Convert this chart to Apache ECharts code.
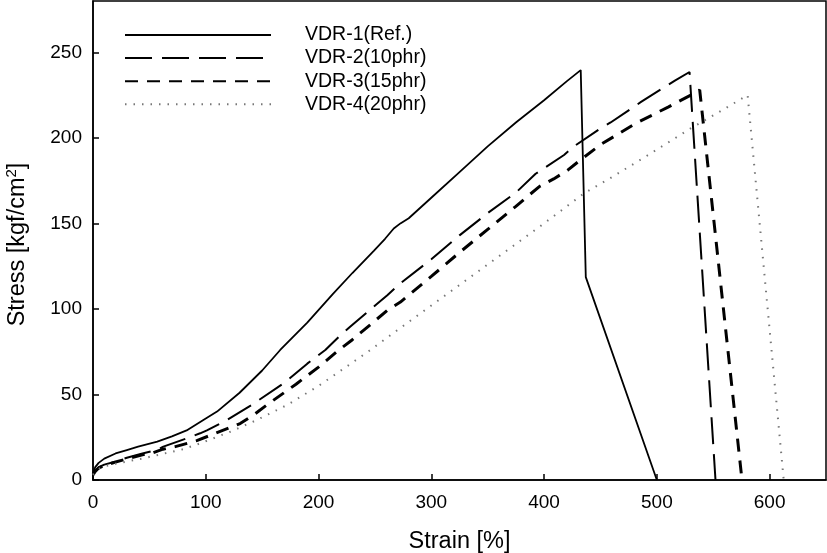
<!DOCTYPE html>
<html><head><meta charset="utf-8">
<script src="https://cdn.jsdelivr.net/npm/echarts@6/dist/echarts.min.js"></script>
<style>html,body{margin:0;padding:0;background:#fff}#c{width:827px;height:553px}</style>
</head><body><div id="c"></div>
<script>
const seriesNames = ['VDR-1(Ref.)', 'VDR-2(10phr)', 'VDR-3(15phr)', 'VDR-4(20phr)'];
const xTicks = [0, 100, 200, 300, 400, 500, 600];
const yTicks = [0, 50, 100, 150, 200, 250];

const strain1 = [0, 2, 5, 10, 20, 30, 40, 57, 70, 83, 100, 110, 130, 150, 166, 190, 213, 230, 249, 259, 266.7, 272.6, 280, 300, 325, 350, 375, 400, 420, 432.5, 437, 500];
const stress1 = [4, 7.5, 10, 12.5, 15.5, 17.5, 19.5, 22.4, 25.5, 29, 36, 40, 51, 64, 76, 92, 109, 121, 134, 141, 147, 150, 153, 165, 180, 195, 209, 222, 233, 239.6, 118.6, 0];

const strain2 = [0, 2, 5, 10, 19.5, 30, 44.7, 56.5, 62.4, 86, 95, 101, 118.7, 141, 169, 190, 206, 218.5, 228, 252, 261, 272.6, 300, 325, 350, 375, 392.5, 417.7, 426.5, 450, 459, 486, 493, 516, 529, 552];
const stress2 = [3, 5.5, 7.5, 9, 10.7, 13, 15.6, 17.5, 19.5, 25, 27.3, 29, 35, 44, 56.5, 68, 76, 84, 89.6, 103, 108, 115, 129, 143, 156, 168, 179, 190, 195, 205.5, 209, 221, 224, 233.4, 238.5, 0];

const strain3 = [0, 2, 5, 10, 20, 43, 53.5, 62, 73, 92, 102.4, 130.5, 142.3, 154, 180, 200, 218, 230, 235.6, 247.4, 261.4, 272.6, 300, 325, 350, 375, 395.5, 408.5, 420.7, 434, 450, 480, 510, 533, 538, 575.5];
const stress3 = [3, 5, 7, 8.5, 10.5, 14.6, 16, 18, 19.5, 23, 25.7, 33, 38, 43.8, 56, 66, 76, 82, 85.2, 91.6, 99.4, 104, 119, 133, 146.5, 160, 171.4, 176, 181, 188, 196, 208, 218, 226, 228, 0];

const strain4 = [0, 2, 5, 10, 20, 44.7, 80, 95, 121.7, 145, 172, 200, 222, 246, 268, 300, 325, 350, 375, 400, 435.5, 460, 490, 530, 555, 580.5, 612.5];
const stress4 = [3, 5, 6.5, 8, 9.5, 12.7, 18, 21.4, 28.2, 35, 43.8, 55, 65, 76, 86.7, 102, 114, 126, 138, 150, 167.6, 177, 189, 205.5, 215, 225, 0];

function pairs(xs, ys) { return xs.map((x, i) => [x, ys[i]]); }

const styles = [
  { color: '#000', width: 1.8, type: 'solid' },
  { color: '#000', width: 2, type: [27, 10] },
  { color: '#000', width: 3, type: [13, 9] },
  { color: '#777', width: 2, type: [1.5, 7] }
];
const data = [pairs(strain1, stress1), pairs(strain2, stress2), pairs(strain3, stress3), pairs(strain4, stress4)];

const font = 'Liberation Sans, Arial, sans-serif';
const chart = echarts.init(document.getElementById('c'), null, { renderer: 'canvas' });
chart.setOption({
  animation: false,
  backgroundColor: '#fff',
  grid: { left: 93, right: 1, top: 1, bottom: 73, show: true, borderColor: '#000', borderWidth: 1.5, containLabel: false, outerBoundsMode: 'none' },
  legend: {
    orient: 'vertical', left: 119, top: 20,
    itemWidth: 146, itemHeight: 14, itemGap: 3.1,
    data: seriesNames,
    itemStyle: { opacity: 0 },
    textStyle: { fontFamily: font, fontSize: 19.5, lineHeight: 18, color: '#000', padding: [0, 0, 0, 29] }
  },
  xAxis: {
    type: 'value', min: 0, max: 650, interval: 100,
    name: 'Strain [%]', nameLocation: 'middle', nameGap: 50,
    nameTextStyle: { fontFamily: font, fontSize: 23.5, color: '#000' },
    axisLine: { lineStyle: { color: '#000', width: 1.5 } },
    axisTick: { inside: true, length: 6, lineStyle: { color: '#000', width: 1.5 } },
    axisLabel: { fontFamily: font, fontSize: 19, color: '#000', margin: 13, showMaxLabel: false },
    splitLine: { show: false }
  },
  yAxis: {
    type: 'value', min: 0, max: 280, interval: 50,
    name: '{a|Stress [kgf/cm}{s|2}{a|]}', nameLocation: 'middle', nameGap: 61, nameRotate: 90,
    nameTextStyle: { fontFamily: font, fontSize: 23.5, color: '#000', padding: [0, 8, 0, 0],
      rich: { a: { fontFamily: font, fontSize: 23.5, lineHeight: 28, color: '#000' }, s: { fontFamily: font, fontSize: 15, lineHeight: 15, color: '#000', verticalAlign: 'top' } } },
    axisLine: { lineStyle: { color: '#000', width: 1.5 } },
    axisTick: { inside: true, length: 6, lineStyle: { color: '#000', width: 1.5 } },
    axisLabel: { fontFamily: font, fontSize: 19, color: '#000', margin: 11, showMaxLabel: false },
    splitLine: { show: false }
  },
  series: seriesNames.map((n, i) => ({
    name: n, type: 'line', data: data[i], symbol: 'none', smooth: false,
    color: styles[i].color,
    lineStyle: { color: styles[i].color, width: styles[i].width, type: styles[i].type, cap: 'butt' }
  }))
});
</script></body></html>
